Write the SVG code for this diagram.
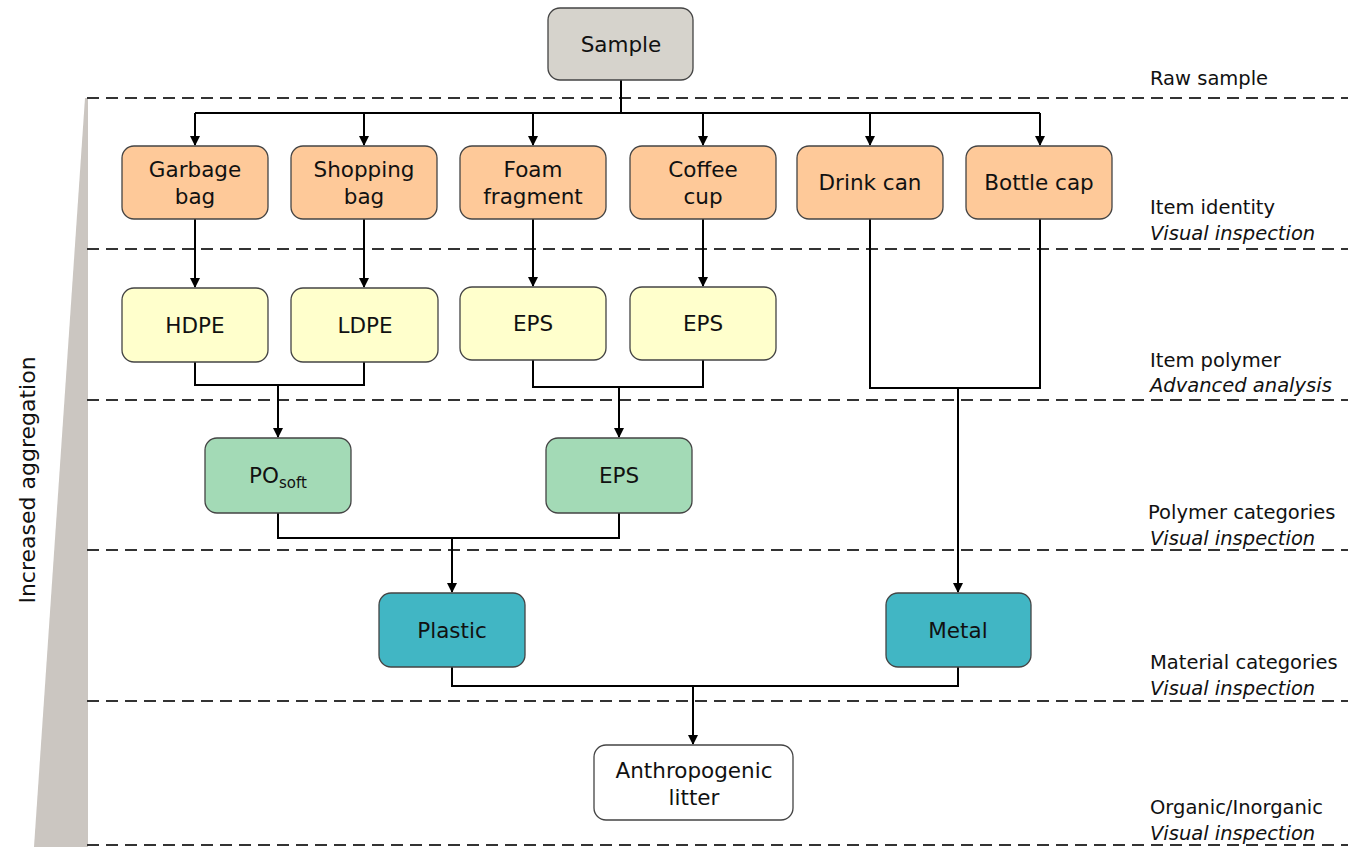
<svg xmlns="http://www.w3.org/2000/svg" width="1348" height="847" viewBox="0 0 1348 847">
<style>
.n{stroke:#444;stroke-width:1.3}
.t{font-family:"DejaVu Sans",Verdana,sans-serif;font-size:21.5px;fill:#111;text-anchor:middle}
.r{font-family:"DejaVu Sans",Verdana,sans-serif;font-size:19.5px;fill:#111}
.i{font-style:italic}
.d{stroke:#333;stroke-width:2;stroke-dasharray:12 7;fill:none}
.c{stroke:#000;stroke-width:2;fill:none}
</style>
<defs>
<marker id="a" viewBox="0 0 10 10" refX="9" refY="5" markerWidth="5" markerHeight="5" orient="auto" markerUnits="strokeWidth">
<path d="M0,0 L10,5 L0,10 z" fill="#000"/>
</marker>
</defs>
<rect width="1348" height="847" fill="#fff"/>
<g id="wedge">
<polygon points="85,98 88,98 88,847 34,847" fill="#cbc6c1"/>
<text class="r" transform="translate(35,480) rotate(-90)" text-anchor="middle" style="font-size:22px">Increased aggregation</text>
</g>
<g id="levels">
<line class="d" x1="87" y1="98" x2="1348" y2="98"/>
<line class="d" x1="87" y1="249" x2="1348" y2="249"/>
<line class="d" x1="87" y1="400" x2="1348" y2="400"/>
<line class="d" x1="87" y1="550" x2="1348" y2="550"/>
<line class="d" x1="87" y1="701" x2="1348" y2="701"/>
<line class="d" x1="87" y1="845" x2="1348" y2="845"/>
<text class="r" x="1150" y="85">Raw sample</text>
<text class="r" x="1150" y="214">Item identity</text>
<text class="r i" x="1150" y="240">Visual inspection</text>
<text class="r" x="1150" y="367">Item polymer</text>
<text class="r i" x="1150" y="392">Advanced analysis</text>
<text class="r" x="1148" y="519">Polymer categories</text>
<text class="r i" x="1150" y="545">Visual inspection</text>
<text class="r" x="1150" y="669">Material categories</text>
<text class="r i" x="1150" y="695">Visual inspection</text>
<text class="r" x="1150" y="814">Organic/Inorganic</text>
<text class="r i" x="1150" y="840">Visual inspection</text>
</g>
<g id="connectors">
<path class="c" d="M621,80 V113 M195,113 H1040"/>
<path class="c" d="M195,113 V145" marker-end="url(#a)"/>
<path class="c" d="M364,113 V145" marker-end="url(#a)"/>
<path class="c" d="M533,113 V145" marker-end="url(#a)"/>
<path class="c" d="M703,113 V145" marker-end="url(#a)"/>
<path class="c" d="M870,113 V145" marker-end="url(#a)"/>
<path class="c" d="M1040,113 V145" marker-end="url(#a)"/>
<path class="c" d="M195,219 V287" marker-end="url(#a)"/>
<path class="c" d="M364,219 V287" marker-end="url(#a)"/>
<path class="c" d="M533,219 V286" marker-end="url(#a)"/>
<path class="c" d="M703,219 V286" marker-end="url(#a)"/>
<path class="c" d="M870,219 V388 H1040 V219"/>
<path class="c" d="M958,388 V592" marker-end="url(#a)"/>
<path class="c" d="M195,362 V385 H364 V362"/>
<path class="c" d="M278,385 V437" marker-end="url(#a)"/>
<path class="c" d="M533,360 V387 H703 V360"/>
<path class="c" d="M619,387 V437" marker-end="url(#a)"/>
<path class="c" d="M278,513 V538 H619 V513"/>
<path class="c" d="M452,538 V592" marker-end="url(#a)"/>
<path class="c" d="M452,667 V686 H958 V667"/>
<path class="c" d="M693,686 V744" marker-end="url(#a)"/>
</g>
<g id="sample"><rect class="n" x="548" y="8" width="145" height="72" rx="12" fill="#d6d3cc"/><text class="t" x="621" y="52">Sample</text></g>
<g id="garbage-bag"><rect class="n" x="122" y="146" width="146" height="73" rx="12" fill="#fec999"/><text class="t" x="195" y="177">Garbage</text><text class="t" x="195" y="204">bag</text></g>
<g id="shopping-bag"><rect class="n" x="291" y="146" width="146" height="73" rx="12" fill="#fec999"/><text class="t" x="364" y="177">Shopping</text><text class="t" x="364" y="204">bag</text></g>
<g id="foam-fragment"><rect class="n" x="460" y="146" width="146" height="73" rx="12" fill="#fec999"/><text class="t" x="533" y="177">Foam</text><text class="t" x="533" y="204">fragment</text></g>
<g id="coffee-cup"><rect class="n" x="630" y="146" width="146" height="73" rx="12" fill="#fec999"/><text class="t" x="703" y="177">Coffee</text><text class="t" x="703" y="204">cup</text></g>
<g id="drink-can"><rect class="n" x="797" y="146" width="146" height="73" rx="12" fill="#fec999"/><text class="t" x="870" y="190">Drink can</text></g>
<g id="bottle-cap"><rect class="n" x="966" y="146" width="146" height="73" rx="12" fill="#fec999"/><text class="t" x="1039" y="190">Bottle cap</text></g>
<g id="hdpe"><rect class="n" x="122" y="288" width="146" height="74" rx="12" fill="#ffffcc"/><text class="t" x="195" y="333">HDPE</text></g>
<g id="ldpe"><rect class="n" x="291" y="288" width="147" height="74" rx="12" fill="#ffffcc"/><text class="t" x="365" y="333">LDPE</text></g>
<g id="eps1"><rect class="n" x="460" y="287" width="146" height="73" rx="12" fill="#ffffcc"/><text class="t" x="533" y="331">EPS</text></g>
<g id="eps2"><rect class="n" x="630" y="287" width="146" height="73" rx="12" fill="#ffffcc"/><text class="t" x="703" y="331">EPS</text></g>
<g id="po-soft"><rect class="n" x="205" y="438" width="146" height="75" rx="12" fill="#a3dab6"/><text class="t" x="278" y="483">PO<tspan dy="5" style="font-size:15px">soft</tspan></text></g>
<g id="eps3"><rect class="n" x="546" y="438" width="146" height="75" rx="12" fill="#a3dab6"/><text class="t" x="619" y="483">EPS</text></g>
<g id="plastic"><rect class="n" x="379" y="593" width="146" height="74" rx="12" fill="#41b6c4"/><text class="t" x="452" y="638">Plastic</text></g>
<g id="metal"><rect class="n" x="886" y="593" width="145" height="74" rx="12" fill="#41b6c4"/><text class="t" x="958" y="638">Metal</text></g>
<g id="anthropogenic-litter"><rect class="n" x="594" y="745" width="199" height="75" rx="12" fill="#fff"/><text class="t" x="694" y="778">Anthropogenic</text><text class="t" x="694" y="805">litter</text></g>
</svg>
